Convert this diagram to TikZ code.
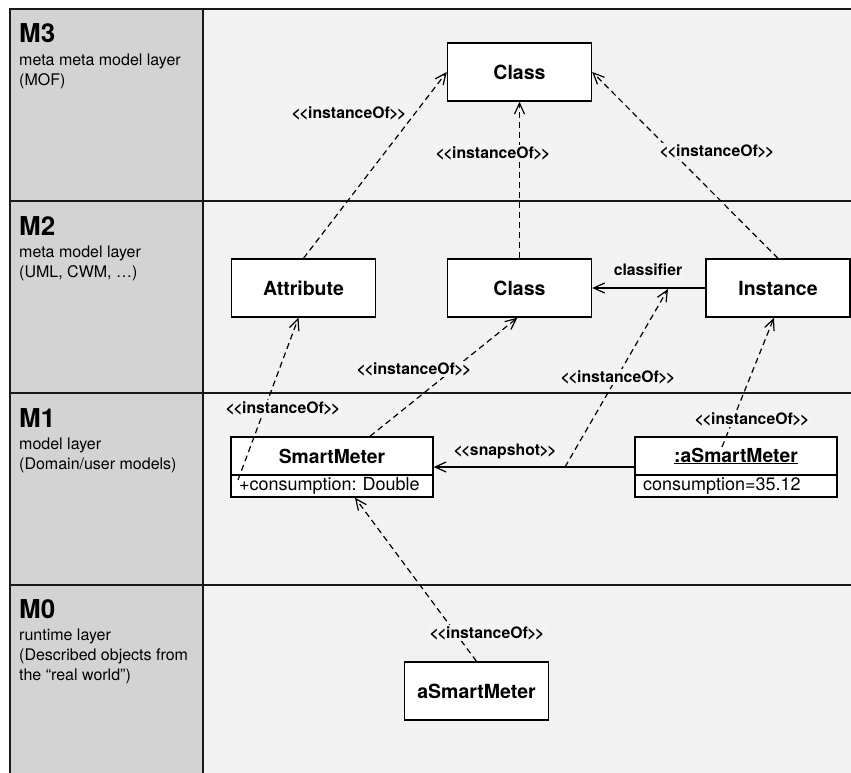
\documentclass[tikz,border=0pt]{standalone}
\usepackage{fontspec}
\setmainfont{TeX Gyre Heros}
\usetikzlibrary{arrows.meta}

\definecolor{colgray}{HTML}{D3D3D3}
\definecolor{panelbg}{HTML}{F2F2F2}
\definecolor{labelbg}{HTML}{F4F4F4}

% tight stereotype brackets (no guillemet ligature)
\newcommand{\stype}[1]{<\kern-1.6pt<\kern-0.4pt#1\kern-0.4pt>\kern-1.6pt>}

\tikzset{
  box/.style={draw=black, line width=1.4pt, fill=white, minimum width=144pt,
    minimum height=58pt, inner sep=0pt, font=\fontsize{19.5}{23}\selectfont\bfseries},
  titlepart/.style={draw=black, line width=1.4pt, fill=white, minimum width=202pt,
    minimum height=38pt, inner sep=0pt, font=\fontsize{19.3}{23}\selectfont\bfseries},
  attrpart/.style={draw=black, line width=1.4pt, fill=white, text width=186pt,
    align=left, inner xsep=8pt, inner ysep=0pt, text height=13pt, text depth=4pt,
    minimum height=22pt, font=\fontsize{18}{20}\selectfont\frenchspacing},
  dep/.style={dash pattern=on 6pt off 4pt, line width=1.2pt,
    -{Straight Barb[length=11pt,width=10pt]}},
  assoc/.style={line width=1.2pt, -{Straight Barb[length=11pt,width=10pt]}},
  stereo/.style={font=\fontsize{15.8}{18}\selectfont\bfseries, fill=labelbg, inner sep=1.5pt},
  layername/.style={anchor=base west, inner sep=0pt, font=\fontsize{26}{30}\selectfont\bfseries},
  layerdesc/.style={anchor=base west, inner sep=0pt, font=\fontsize{16}{20}\selectfont},
  frame/.style={line width=1.3pt, draw=black!90},
}

\begin{document}
\begin{tikzpicture}[x=1pt,y=-1pt]
\useasboundingbox (0,0) rectangle (851,773);

% backgrounds
\fill[white] (0,0) rectangle (851,773);
\fill[colgray] (10,9) rectangle (203,773);
\fill[panelbg] (203,9) rectangle (851,773);

% layer grid
\draw[frame] (10,773) -- (10,9) -- (851,9);
\draw[frame] (203,9) -- (203,773);
\draw[frame] (10,201) -- (851,201);
\draw[frame] (10,393) -- (851,393);
\draw[frame] (10,585) -- (851,585);

% layer captions
\node[layername] (m3) at (19,43) {M3};
\node[layerdesc] (m3a) at (19,66) {meta meta model layer};
\node[layerdesc] (m3b) at (19,86) {(MOF)};

\node[layername] (m2) at (19,235) {M2};
\node[layerdesc] (m2a) at (19,257) {meta model layer};
\node[layerdesc] (m2b) at (19,277) {(UML, CWM, …)};

\node[layername] (m1) at (19,427) {M1};
\node[layerdesc] (m1a) at (19,449) {model layer};
\node[layerdesc] (m1b) at (19,469) {(Domain/user models)};

\node[layername] (m0) at (19,618) {M0};
\node[layerdesc] (m0a) at (19,640) {runtime layer};
\node[layerdesc] (m0b) at (19,660) {(Described objects from};
\node[layerdesc] (m0c) at (19,680) {the “real world”)};

% elements
\node[box] (c3) at (519.5,72) {Class};
\node[box] (attr) at (303.5,288) {Attribute};
\node[box] (c2) at (519.5,288) {Class};
\node[box] (inst) at (778,288) {Instance};

\node[titlepart] (smT) at (332,456) {SmartMeter};
\node[attrpart] (smA) at (332,486) {+consumption: Double};

\node[titlepart] (asmT) at (736,456) {\underline{:aSmartMeter}};
\node[attrpart] (asmA) at (736,486) {consumption=35.12};

\node[box] (obj) at (476.5,691) {aSmartMeter};

% free connector ends
\coordinate (attrref) at (238,480);
\coordinate (asmref) at (722,447);
\coordinate (snapfoot) at (565,467);
\coordinate (classhead) at (668,289);

% connectors
\draw[dep] (attr.north) -- (c3.west);
\draw[dep] (c2.north) -- (c3.south);
\draw[dep] (inst.north) -- (c3.east);
\draw[assoc] (inst.west) -- (c2.east);
\draw[dep] (attrref) -- ([xshift=-5pt]attr.south);
\draw[dep] ([xshift=38pt]smT.north) -- ([xshift=-2pt]c2.south);
\draw[dep] (asmref) -- ([xshift=-4pt]inst.south);
\draw[assoc] ([yshift=-11pt]asmT.west) -- ([yshift=-11pt]smT.east);
\draw[dep] (snapfoot) -- (classhead);
\draw[dep] (obj.north) -- ([xshift=23pt]smA.south);

% connector labels
\node[stereo] (l1) at (349,113) {\stype{instanceOf}};
\node[stereo] (l2) at (493,153) {\stype{instanceOf}};
\node[stereo] (l3) at (717,151) {\stype{instanceOf}};
\node[stereo] (l9) at (648,270) {classifier};
\node[stereo] (l5) at (414,369) {\stype{instanceOf}};
\node[stereo] (l6) at (618,377) {\stype{instanceOf}};
\node[stereo] (l4) at (283,408) {\stype{instanceOf}};
\node[stereo] (l7) at (752,419) {\stype{instanceOf}};
\node[stereo] (l8) at (505,451) {\stype{snapshot}};
\node[stereo] (l10) at (487,633) {\stype{instanceOf}};
\end{tikzpicture}
\end{document}
